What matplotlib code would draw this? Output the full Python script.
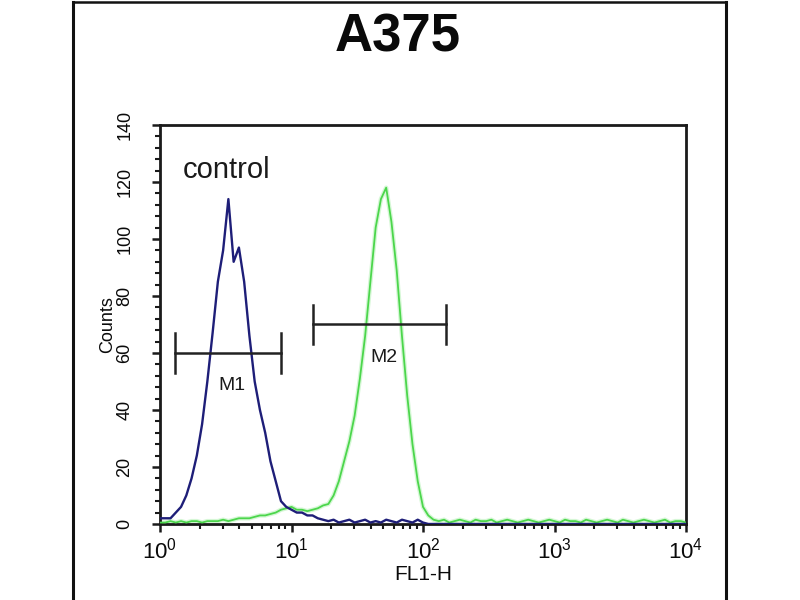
import numpy as np
import matplotlib
matplotlib.use("Agg")
import matplotlib.pyplot as plt
from matplotlib.ticker import MultipleLocator, LogLocator, NullFormatter
from matplotlib.lines import Line2D

# ---- data -------------------------------------------------------------
title = "A375"
x_label = "FL1-H"
y_label = "Counts"
control_label = "control"

# channel grid: log10(FL1-H) bin centres, 0.04 decade apart (0 .. 4)
log_fl1 = np.arange(0, 101) * 0.04

control_counts = [
    2, 2, 2, 4, 6, 10, 16, 24, 35, 50,
    67, 85, 96, 114, 92, 97, 85, 66, 50, 40,
    32, 22, 15, 8, 6, 5, 4, 4, 3, 3,
    2, 1.5, 1, 1.5, 0.5, 1, 1.5, 0.5, 1, 1.5,
    0.5, 1, 0.5, 1.5, 1, 0.5, 1.5, 1, 0.5, 1.5,
    0.5, 0, 0, 0, 0, 0, 0, 0, 0, 0,
    0, 0, 0, 0, 0, 0, 0, 0, 0, 0,
    0, 0, 0, 0, 0, 0, 0, 0, 0, 0,
    0, 0, 0, 0, 0, 0, 0, 0, 0, 0,
    0, 0, 0, 0, 0, 0, 0, 0, 0, 0,
    0,
]

sample_counts = [
    0.5, 0.5, 1, 0.5, 1, 0.5, 1, 1, 0.5, 1,
    1, 1, 1.5, 1, 1.5, 2, 2, 2, 2.5, 3,
    3, 3.5, 4, 5, 5.5, 6, 5, 5, 4.5, 5,
    5.5, 6.5, 7, 10, 15, 22, 29, 38, 51, 66,
    85, 104, 114, 118, 106, 89, 66, 45, 28, 15,
    6, 3, 1.5, 1, 1.5, 0.5, 1, 1.5, 1, 0.5,
    1.5, 1, 1, 1.5, 0.5, 1, 1.5, 1, 0.5, 1,
    1.5, 1, 0.5, 1, 1.5, 1, 0.5, 1.5, 1, 1,
    0.5, 1.5, 1, 0.5, 1, 1.5, 1, 0.5, 1.5, 1,
    0.5, 1, 1.5, 1, 0.5, 1, 1.5, 0.5, 1, 1,
    0.5,
]

gate_names = ["M1", "M2"]
gate_lo = [1.3, 14.6]
gate_hi = [8.3, 150.0]
gate_y = [60, 70]

y_max = 140
y_major = 20
y_minor = 4

# ---- figure -----------------------------------------------------------
plt.rcParams['font.family'] = ['Liberation Sans', 'DejaVu Sans']
plt.rcParams['mathtext.fontset'] = 'custom'
plt.rcParams['mathtext.rm'] = 'Liberation Sans'
plt.rcParams['mathtext.it'] = 'Liberation Sans'

fig = plt.figure(figsize=(8, 6), dpi=100)
ax = fig.add_axes([0.2, 0.1267, 0.6575, 0.665])

fl1 = 10 ** log_fl1
ax.plot(fl1, sample_counts, color='#c4f4c4', lw=3.2, zorder=2, alpha=0.7)
ax.plot(fl1, sample_counts, color='#4cd64c', lw=1.3, zorder=3)
ax.plot(fl1, control_counts, color='#1e1e78', lw=1.7, zorder=4)

cap = 7
for name, lo, hi, y in zip(gate_names, gate_lo, gate_hi, gate_y):
    ax.plot([lo, hi], [y, y], color='#222222', lw=1.8, zorder=5)
    ax.plot([lo, lo], [y - cap, y + cap], color='#222222', lw=1.8, zorder=5)
    ax.plot([hi, hi], [y - cap, y + cap], color='#222222', lw=1.8, zorder=5)
    ax.text(np.sqrt(lo * hi) * 1.08, y - 11.5, name, ha='center', va='center',
            fontsize=14, color='#1a1a1a', zorder=6)

ax.text(1.5, 121.5, control_label, ha='left', va='baseline', fontsize=21, color='#1a1a1a')

ax.set_xscale('log')
ax.set_xlim(1, 1e4)
ax.set_ylim(0, y_max)
ax.yaxis.set_major_locator(MultipleLocator(y_major))
ax.yaxis.set_minor_locator(MultipleLocator(y_minor))
ax.xaxis.set_major_locator(LogLocator(base=10, numticks=10))
ax.xaxis.set_minor_locator(LogLocator(base=10, subs=np.arange(2, 10), numticks=10))
ax.xaxis.set_minor_formatter(NullFormatter())

for s in ax.spines.values():
    s.set_linewidth(2.0)
    s.set_color('#1a1a1a')

ax.tick_params(axis='both', which='major', direction='out', length=6, width=1.8,
               color='#1a1a1a', labelcolor='#0a0a0a')
ax.tick_params(axis='both', which='minor', direction='out', length=3.5, width=1.5,
               color='#1a1a1a')
ax.tick_params(axis='y', which='major', labelsize=13, pad=13)
ax.tick_params(axis='x', which='major', labelsize=16, pad=4)
for lab in ax.get_yticklabels():
    lab.set_rotation(90)
    lab.set_va('center')

ax.set_ylabel(y_label, fontsize=13, labelpad=0, color='#0a0a0a')
ax.set_xlabel(x_label, fontsize=15, labelpad=1, color='#0a0a0a')

fig.text(0.4975, 1 - 52 / 600, title, ha='center', va='baseline', fontsize=38,
         fontweight='bold', color='#0a0a0a')

# outer frame
fig.add_artist(Line2D([73 / 800, 73 / 800], [0, 598 / 600], transform=fig.transFigure,
                      color='#111111', lw=2.2))
fig.add_artist(Line2D([726 / 800, 726 / 800], [0, 598 / 600], transform=fig.transFigure,
                      color='#111111', lw=2.2))
fig.add_artist(Line2D([73 / 800, 726 / 800], [598 / 600, 598 / 600], transform=fig.transFigure,
                      color='#111111', lw=1.8))

fig.savefig('out.png', dpi=100)
